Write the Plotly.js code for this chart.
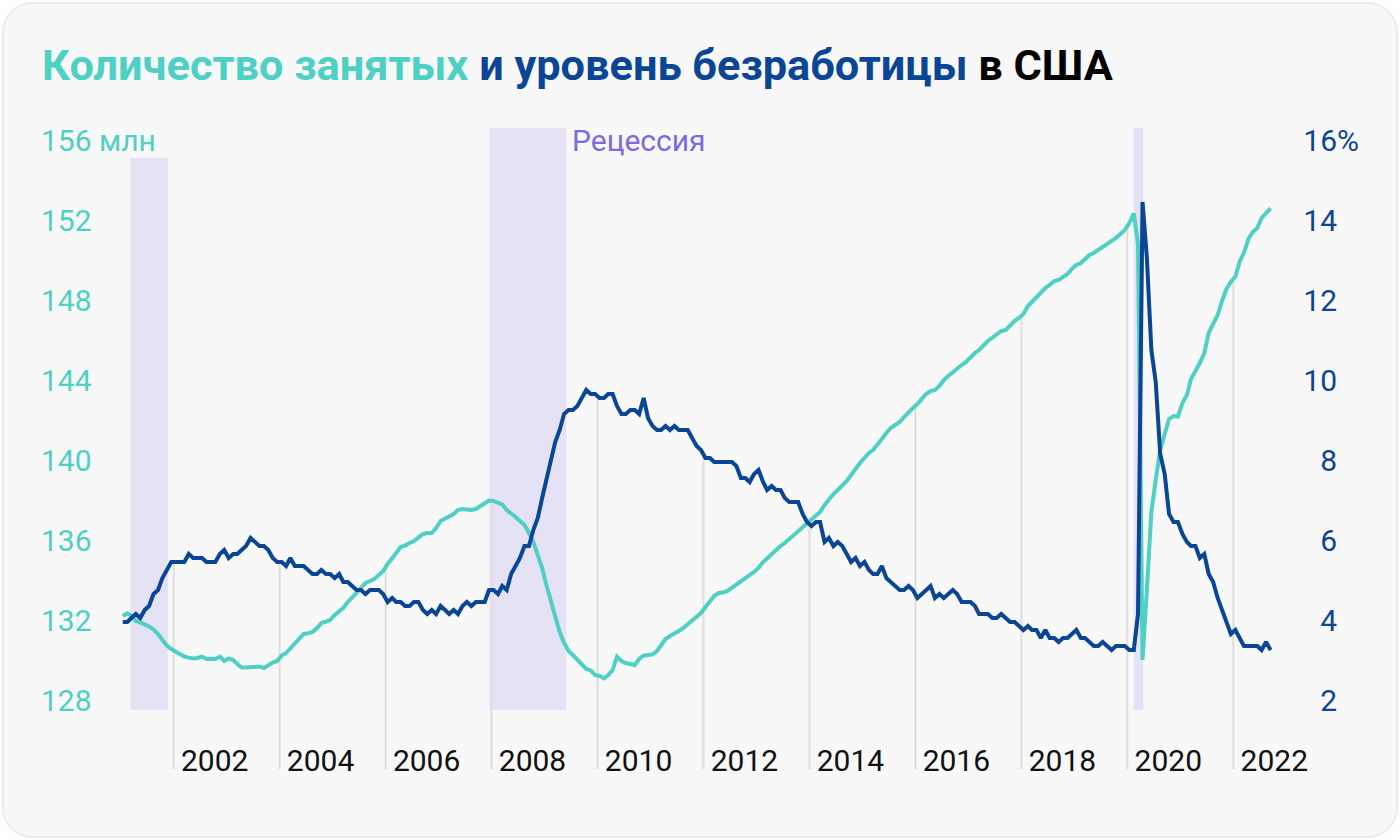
<!DOCTYPE html>
<html>
<head>
<meta charset="utf-8">
<script src="https://cdn.plot.ly/plotly-3.0.1.min.js"></script>
<style>
  html, body { margin:0; padding:0; background:#ffffff; }
  #card { position:absolute; left:2px; top:2px; width:1392px; height:832px;
          background:#f8f8f8; border:2px solid #ececec; border-radius:30px; }
  #chart { position:absolute; left:0; top:0; width:1400px; height:840px; }
</style>
</head>
<body>
<div id="card"></div>
<div id="chart"></div>
<script>
// ---- Data (monthly, Jan 2001 – Sep 2022) ----
const startYear = 2001;

// Количество занятых, млн
const employment = [
  132.70,132.83,132.72,132.45,132.38,132.30,132.18,132.02,131.80,131.50,131.22,131.05, // 2001
  130.92,130.78,130.67,130.62,130.58,130.60,130.67,130.55,130.53,130.55,130.67,130.45, // 2002
  130.58,130.50,130.30,130.12,130.12,130.14,130.17,130.17,130.10,130.25,130.37,130.45, // 2003
  130.72,130.85,131.08,131.35,131.62,131.80,131.83,131.90,132.10,132.35,132.42,132.50, // 2004
  132.75,132.95,133.10,133.40,133.60,133.85,134.10,134.35,134.45,134.55,134.75,134.95, // 2005
  135.30,135.55,135.85,136.15,136.22,136.35,136.45,136.62,136.80,136.85,136.85,137.10, // 2006
  137.45,137.58,137.68,137.80,138.00,138.05,138.03,138.00,138.05,138.20,138.35,138.47, // 2007
  138.45,138.35,138.28,138.00,137.85,137.65,137.45,137.25,136.85,136.40,135.75,135.10, // 2008
  134.20,133.40,132.55,131.90,131.35,130.95,130.75,130.50,130.25,130.05,129.98,129.75, // 2009
  129.70,129.58,129.75,130.00,130.67,130.45,130.35,130.28,130.25,130.55,130.72,130.75, // 2010
  130.78,130.95,131.25,131.55,131.70,131.80,131.95,132.10,132.30,132.50,132.65,132.85, // 2011
  133.15,133.45,133.70,133.85,133.87,133.95,134.10,134.25,134.40,134.55,134.72,134.90, // 2012
  135.10,135.40,135.58,135.80,136.00,136.20,136.35,136.55,136.75,136.95,137.15,137.30, // 2013
  137.50,137.70,137.90,138.25,138.55,138.80,139.00,139.20,139.45,139.75,140.10,140.35, // 2014
  140.60,140.85,141.00,141.25,141.55,141.85,142.10,142.25,142.40,142.65,142.90,143.10, // 2015
  143.30,143.55,143.80,143.95,144.00,144.20,144.50,144.70,144.90,145.10,145.25,145.40, // 2016
  145.65,145.85,146.00,146.25,146.45,146.62,146.80,146.95,147.00,147.25,147.45,147.60, // 2017
  147.80,148.20,148.40,148.65,148.90,149.10,149.25,149.45,149.50,149.65,149.80,150.05, // 2018
  150.25,150.35,150.55,150.75,150.85,151.00,151.15,151.30,151.45,151.60,151.80,152.00, // 2019
  152.35,152.83,151.30,130.50,134.00,137.90,139.50,141.00,141.80,142.55,142.70,142.67, // 2020
  143.35,143.75,144.55,144.92,145.35,145.85,146.85,147.30,147.75,148.45,149.05,149.40, // 2021
  149.67,150.45,150.85,151.55,151.90,152.10,152.60,152.85,153.08                        // 2022
];

// Уровень безработицы, %
const unemployment = [
  4.2,4.2,4.3,4.4,4.3,4.5,4.6,4.9,5.0,5.3,5.5,5.7,   // 2001
  5.7,5.7,5.7,5.9,5.8,5.8,5.8,5.7,5.7,5.7,5.9,6.0,   // 2002
  5.8,5.9,5.9,6.0,6.1,6.3,6.2,6.1,6.1,6.0,5.8,5.7,   // 2003
  5.7,5.6,5.8,5.6,5.6,5.6,5.5,5.4,5.4,5.5,5.4,5.4,   // 2004
  5.3,5.4,5.2,5.2,5.1,5.0,5.0,4.9,5.0,5.0,5.0,4.9,   // 2005
  4.7,4.8,4.7,4.7,4.6,4.6,4.7,4.7,4.5,4.4,4.5,4.4,   // 2006
  4.6,4.5,4.4,4.5,4.4,4.6,4.7,4.6,4.7,4.7,4.7,5.0,   // 2007
  5.0,4.9,5.1,5.0,5.4,5.6,5.8,6.1,6.1,6.5,6.8,7.3,   // 2008
  7.8,8.3,8.7,9.0,9.4,9.5,9.5,9.6,9.8,10.0,9.9,9.9,  // 2009
  9.8,9.8,9.9,9.9,9.6,9.4,9.4,9.5,9.5,9.4,9.8,9.3,   // 2010
  9.1,9.0,9.0,9.1,9.0,9.1,9.0,9.0,9.0,8.8,8.6,8.5,   // 2011
  8.3,8.3,8.2,8.2,8.2,8.2,8.2,8.1,7.8,7.8,7.7,7.9,   // 2012
  8.0,7.7,7.5,7.6,7.5,7.5,7.3,7.2,7.2,7.2,6.9,6.7,   // 2013
  6.6,6.7,6.7,6.2,6.3,6.1,6.2,6.1,5.9,5.7,5.8,5.6,   // 2014
  5.7,5.5,5.4,5.4,5.6,5.3,5.2,5.1,5.0,5.0,5.1,5.0,   // 2015
  4.8,4.9,5.0,5.1,4.8,4.9,4.8,4.9,5.0,4.9,4.7,4.7,   // 2016
  4.7,4.6,4.4,4.4,4.4,4.3,4.3,4.4,4.3,4.2,4.2,4.1,   // 2017
  4.0,4.1,4.0,4.0,3.8,4.0,3.8,3.8,3.7,3.8,3.8,3.9,   // 2018
  4.0,3.8,3.8,3.7,3.6,3.6,3.7,3.6,3.5,3.6,3.6,3.6,   // 2019
  3.5,3.5,4.4,14.7,13.3,11.0,10.2,8.4,7.9,6.9,6.7,6.7, // 2020
  6.4,6.2,6.1,6.1,5.8,5.9,5.4,5.2,4.8,4.5,4.2,3.9,   // 2021
  4.0,3.8,3.6,3.6,3.6,3.6,3.5,3.7,3.5                // 2022
];

// Рецессии (начало, конец)
const recessionStarts = ["2001-03-08", "2007-12-18", "2020-02-15"];
const recessionEnds   = ["2001-11-22", "2009-06-01", "2020-04-20"];

// Подписи осей
const tickYears = [2002,2004,2006,2008,2010,2012,2014,2016,2018,2020,2022];
const leftTickVals = [128,132,136,140,144,148,152,156];
const leftTickText = ["128","132","136","140","144","148","152","156 млн"];
const rightTickVals = [2,4,6,8,10,12,14,16];
const rightTickText = ["2","4","6","8","10","12","14","16"];

// ---- Styles / layout constants ----
const TEAL = "#4fd0c4", BLUE = "#0b4596", PURPLE = "#7b6be3", SHADE = "#e5e2f5", GRID = "#dedede";
const FONT = "Roboto, 'Noto Sans', sans-serif";
const plotLeft = 38, plotRight = 1340, plotTop = 128, plotBottom = 780;
const yRange = [124.5, 157.1];
const y2Range = [0.25, 16.55];
const gridBottom = 125.05;

// x range from pixel layout
const msYear = 365.2425 * 864e5;
const anchorMs = Date.UTC(2002, 0, 1), anchorPx = 173.7, pxPerYear = 52.98;
const xRange = [anchorMs - (anchorPx - plotLeft) / pxPerYear * msYear,
                anchorMs + (plotRight - anchorPx) / pxPerYear * msYear];

const dates = employment.map((_, i) => {
  const y = startYear + Math.floor(i / 12), m = i % 12 + 1;
  return `${y}-${String(m).padStart(2, "0")}-15`;
});

// map y2 value to y units
const toY = u => yRange[0] + (u - y2Range[0]) / (y2Range[1] - y2Range[0]) * (yRange[1] - yRange[0]);

const traces = [];
// drop lines at each tick year, from upper curve down
tickYears.forEach(yr => {
  const idx = (yr - startYear) * 12;
  const top = Math.max(employment[idx], toY(unemployment[idx]));
  traces.push({
    x: [`${yr}-01-01`, `${yr}-01-01`], y: [top, gridBottom],
    mode: "lines", line: { color: GRID, width: 2 },
    hoverinfo: "skip", showlegend: false, yaxis: "y"
  });
});
traces.push({
  x: dates, y: unemployment, yaxis: "y2", mode: "lines",
  line: { color: BLUE, width: 4 }, name: "Уровень безработицы", showlegend: false
});
traces.push({
  x: dates, y: employment, yaxis: "y", mode: "lines",
  line: { color: TEAL, width: 4 }, name: "Количество занятых", showlegend: false
});

const shapes = recessionStarts.map((s, i) => ({
  type: "rect", layer: "below", xref: "x", yref: "y",
  x0: s, x1: recessionEnds[i], y0: 128, y1: i === 0 ? 155.6 : yRange[1],
  fillcolor: SHADE, line: { width: 0 }
}));

const layout = {
  width: 1400, height: 840,
  paper_bgcolor: "rgba(0,0,0,0)", plot_bgcolor: "rgba(0,0,0,0)",
  margin: { l: plotLeft, r: 1400 - plotRight, t: plotTop, b: 840 - plotBottom, pad: 0 },
  font: { family: FONT },
  title: {
    text: `<span style="color:${TEAL}">Количество занятых</span> <span style="color:${BLUE}">и уровень безработицы</span> в США`,
    font: { family: FONT, size: 43.3, weight: 700, color: "#000" },
    xref: "container", yref: "container", x: 42 / 1400, xanchor: "left",
    y: 1 - 65 / 840, yanchor: "middle"
  },
  xaxis: {
    type: "date", range: xRange, showgrid: false, zeroline: false, showline: false,
    ticks: "", tickvals: tickYears.map(y => `${y}-01-01`), ticktext: tickYears.map(String),
    ticklabelposition: "inside", ticklabelshift: 41, ticklabelstandoff: 0, ticklabeloverflow: "allow",
    tickfont: { family: FONT, size: 30, color: "#111" }, fixedrange: true
  },
  yaxis: {
    range: yRange, showgrid: false, zeroline: false, showline: false, ticks: "",
    tickvals: leftTickVals, ticktext: leftTickText,
    ticklabelposition: "inside", ticklabelshift: -10, ticklabeloverflow: "allow",
    tickfont: { family: FONT, size: 30, color: TEAL }, fixedrange: true
  },
  yaxis2: {
    range: y2Range, overlaying: "y", side: "right", showgrid: false, zeroline: false,
    showline: false, ticks: "", tickvals: rightTickVals, ticktext: rightTickText,
    ticklabelposition: "inside", ticklabelshift: -10, ticklabeloverflow: "allow",
    tickfont: { family: FONT, size: 30, color: BLUE }, fixedrange: true
  },
  shapes: shapes,
  annotations: [
    { text: "Рецессия", xref: "x", yref: "y", x: recessionEnds[1], y: 156,
      xanchor: "left", yanchor: "middle", xshift: 3, yshift: 10, showarrow: false,
      font: { family: FONT, size: 30, color: PURPLE } },
    { text: "%", xref: "paper", yref: "y2", x: 1, y: 16,
      xanchor: "left", yanchor: "middle", xshift: -5, yshift: 10, showarrow: false,
      font: { family: FONT, size: 30, color: BLUE } }
  ],
  showlegend: false
};

Plotly.newPlot("chart", traces, layout, { displayModeBar: false, staticPlot: true });
</script>
</body>
</html>
